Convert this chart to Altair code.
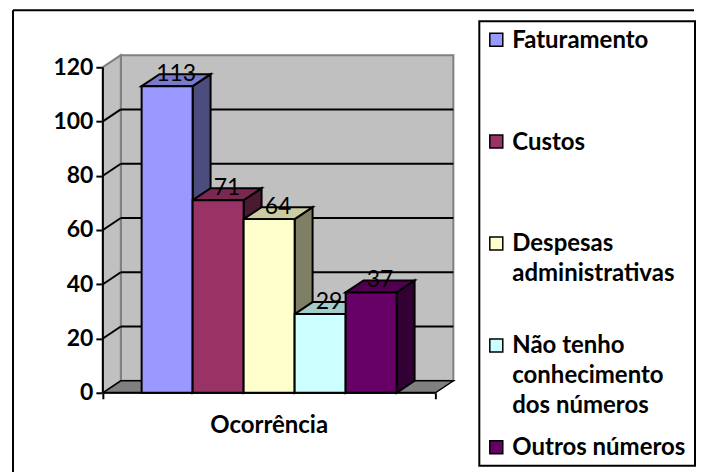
import altair as alt
import pandas as pd

# ---------------- data ----------------
categories = ["Faturamento", "Custos", "Despesas administrativas",
              "Não tenho conhecimento dos números", "Outros números"]
legend_labels = ["Faturamento", "Custos", "Despesas\nadministrativas",
                 "Não tenho\nconhecimento\ndos números", "Outros números"]
values = [113, 71, 64, 29, 37]
front_colors = ["#9999FF", "#993366", "#FFFFCC", "#CCFFFF", "#660066"]
y_ticks = [0, 20, 40, 60, 80, 100, 120]
x_title = "Ocorrência"

# ---------------- style / 3D geometry (scale units) ----------------
GAP = 0.76     # wall-to-bar space, in bar widths
DX = 0.352     # depth along x, in bar widths
DY = 4.42      # depth along y, in value units
Y_TOP = 136.9  # empty head room above back wall
FONT = "Lato"


def shade(hex_color, f):
    h = hex_color.lstrip("#")
    r, g, b = (int(h[i:i + 2], 16) for i in (0, 2, 4))
    return "#{:02x}{:02x}{:02x}".format(int(r * f), int(g * f), int(b * f))


n = len(values)
top_val = y_ticks[-1]
xs = alt.Scale(domain=[-GAP, n + GAP + DX], nice=False, zero=False)
ys = alt.Scale(domain=[0, Y_TOP], nice=False, zero=False)

x_axis = alt.Axis(values=[-GAP, n + GAP], labels=False, domain=False, grid=False,
                  tickSize=6, tickWidth=2, tickColor="black",
                  title=x_title, titleFont=FONT, titleFontSize=24, titleFontWeight="bold",
                  titleColor="black", titlePadding=14, titleX=166)
y_axis = alt.Axis(values=y_ticks, domain=False, grid=False, tickSize=7, tickWidth=2,
                  tickColor="black", labelFont=FONT, labelFontSize=23, labelFontWeight="bold",
                  labelColor="black", labelPadding=3, title=None)


def X(field):
    return alt.X(field, scale=xs, axis=x_axis)


def Y(field):
    return alt.Y(field, scale=ys, axis=y_axis, stack=None)


# ---------------- tables built from the arrays ----------------
bars = pd.DataFrame({
    "cat": categories,
    "v": values,
    "x0": [i for i in range(n)],
    "x1": [i + 1 for i in range(n)],
    "base": [0] * n,
    "front": front_colors,
    "lx": [i + 0.5 + DX / 2 for i in range(n)],
    "ly": [v + DY for v in values],
    "lab": [str(v) for v in values],
})

side_rows, top_rows = [], []
for i, (c, v, col) in enumerate(zip(categories, values, front_colors)):
    x0, x1 = i, i + 1
    for x, lo, hi in [(x1, 0, v), (x1 + DX, DY, v + DY)]:
        side_rows.append({"cat": c, "x": x, "lo": lo, "hi": hi, "c": shade(col, 0.5)})
    for x, lo, hi in [(x0, v, v), (x0 + DX, v, v + DY), (x1, v, v + DY), (x1 + DX, v + DY, v + DY)]:
        top_rows.append({"cat": c, "x": x, "lo": lo, "hi": hi, "c": shade(col, 0.8)})
sides = pd.DataFrame(side_rows)
tops = pd.DataFrame(top_rows)

wall = pd.DataFrame({"x0": [-GAP + DX], "x1": [n + GAP + DX], "y0": [DY], "y1": [top_val + DY]})
side_wall = pd.DataFrame({"x": [-GAP, -GAP + DX], "lo": [0, DY], "hi": [top_val, top_val + DY]})
floor = pd.DataFrame({"x": [-GAP, -GAP + DX, n + GAP, n + GAP + DX],
                      "lo": [0, 0, 0, DY], "hi": [0, DY, DY, DY]})
grid = pd.DataFrame({"v": y_ticks[1:-1]})
grid["yb"] = grid["v"] + DY
grid["bx0"] = -GAP + DX
grid["bx1"] = n + GAP + DX
grid["sx0"] = -GAP
grid["sx1"] = -GAP + DX
axis_df = pd.DataFrame({"x0": [-GAP], "x1": [n + GAP], "y0": [0], "y1": [top_val]})
one = pd.DataFrame({"a": [0]})

back = alt.Chart(wall).mark_rect(fill="#C0C0C0", stroke="#808080", strokeWidth=2).encode(
    x=X("x0:Q"), x2="x1:Q", y=Y("y0:Q"), y2="y1:Q")

left_wall = alt.Chart(side_wall).mark_area(fill="#C0C0C0", stroke="#808080", strokeWidth=2,
                                           orient="vertical").encode(
    x=X("x:Q"), y=Y("hi:Q"), y2="lo:Q")

floor_l = alt.Chart(floor).mark_area(fill="#808080", stroke="black", strokeWidth=1.5,
                                     orient="vertical").encode(
    x=X("x:Q"), y=Y("hi:Q"), y2="lo:Q")

grid_back = alt.Chart(grid).mark_rule(color="black", strokeWidth=2).encode(
    x=X("bx0:Q"), x2="bx1:Q", y=Y("yb:Q"))

grid_side = alt.Chart(grid).mark_rule(color="black", strokeWidth=2).encode(
    x=X("sx0:Q"), x2="sx1:Q", y=Y("v:Q"), y2="yb:Q")

y_line = alt.Chart(axis_df).mark_rule(color="black", strokeWidth=2).encode(
    x=X("x0:Q"), y=Y("y0:Q"), y2="y1:Q")
x_line = alt.Chart(axis_df).mark_rule(color="black", strokeWidth=2).encode(
    x=X("x0:Q"), x2="x1:Q", y=Y("y0:Q"))

side_l = alt.Chart(sides).mark_area(stroke="black", strokeWidth=2, orient="vertical").encode(
    x=X("x:Q"), y=Y("hi:Q"), y2="lo:Q",
    fill=alt.Fill("c:N", scale=None), detail="cat:N")

top_l = alt.Chart(tops).mark_area(stroke="black", strokeWidth=2, orient="vertical").encode(
    x=X("x:Q"), y=Y("hi:Q"), y2="lo:Q",
    fill=alt.Fill("c:N", scale=None), detail="cat:N")

front_l = alt.Chart(bars).mark_rect(stroke="black", strokeWidth=2).encode(
    x=X("x0:Q"), x2="x1:Q", y=Y("base:Q"), y2="v:Q",
    fill=alt.Fill("front:N", scale=None))

labels_l = alt.Chart(bars).mark_text(font=FONT, fontSize=23, color="black",
                                      align="center", baseline="middle").encode(
    x=X("lx:Q"), y=Y("ly:Q"), text="lab:N")

# chart-area frame (its right and bottom edges lie outside the picture)
border_top = alt.Chart(one).mark_rule(color="black", strokeWidth=2).encode(
    x=alt.value(-90), x2=alt.value(592), y=alt.value(-11))
border_left = alt.Chart(one).mark_rule(color="black", strokeWidth=2).encode(
    x=alt.value(-90), y=alt.value(-11), y2=alt.value(452))

main = alt.layer(back, left_wall, floor_l, grid_back, grid_side, y_line, x_line,
                 side_l, top_l, front_l, labels_l, border_top, border_left).properties(
    width=351, height=372)

# ---------------- legend ----------------
leg = pd.DataFrame({"cat": categories, "label": legend_labels, "color": front_colors})
ly_scale = alt.Scale(type="point", domain=categories, padding=0.18)
squares = alt.Chart(leg).mark_square(size=169, stroke="black", strokeWidth=1.5, opacity=1).encode(
    x=alt.value(17), y=alt.Y("cat:N", scale=ly_scale, axis=None),
    fill=alt.Fill("color:N", scale=None))
texts = alt.Chart(leg).mark_text(align="left", baseline="alphabetic", dy=8, lineBreak="\n",
                                 lineHeight=30, font=FONT, fontSize=24, fontWeight="bold",
                                 color="black").encode(
    x=alt.value(33), y=alt.Y("cat:N", scale=ly_scale, axis=None), text="label:N")
legend = alt.layer(squares, texts).properties(
    width=216, height=445,
    view=alt.ViewBackground(stroke="black", strokeWidth=2, fill="white"))

chart = alt.hconcat(main, legend, spacing=26, bounds="flush").properties(
    padding={"left": 3, "top": 0, "right": 0, "bottom": 0},
    background="white",
).configure_view(stroke="transparent")

chart.save("out.html", embed_options={"renderer": "svg", "actions": False})
